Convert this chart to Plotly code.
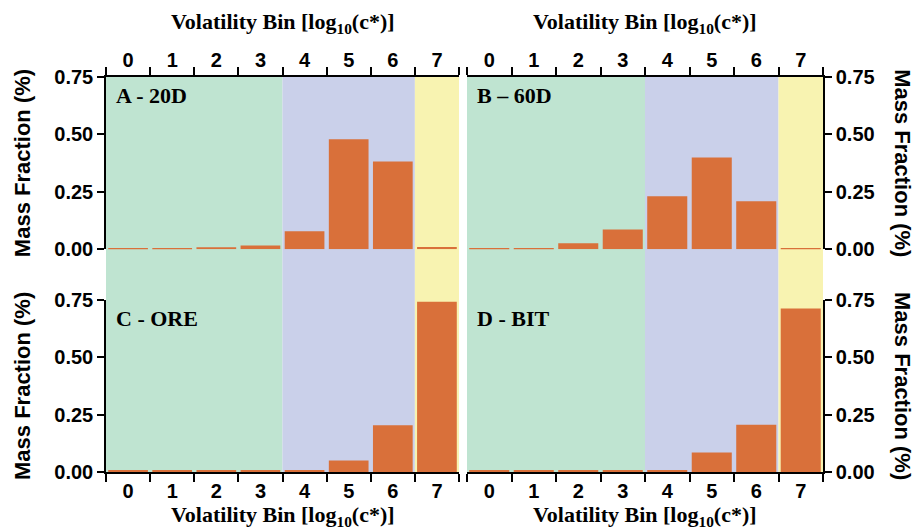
import plotly.graph_objects as go

bins = [0, 1, 2, 3, 4, 5, 6, 7]
tick_labels = ["0", "1", "2", "3", "4", "5", "6", "7"]
y_ticks = [0.0, 0.25, 0.5, 0.75]
y_tick_labels = ["0.00", "0.25", "0.50", "0.75"]

a_20d = [0.004, 0.004, 0.009, 0.016, 0.079, 0.479, 0.382, 0.010]
b_60d = [0.003, 0.006, 0.026, 0.086, 0.231, 0.400, 0.209, 0.003]
c_ore = [0.006, 0.006, 0.006, 0.006, 0.006, 0.050, 0.204, 0.742]
d_bit = [0.006, 0.006, 0.006, 0.006, 0.006, 0.085, 0.206, 0.713]

panel_names = ["A - 20D", "B \u2013 60D", "C - ORE", "D - BIT"]
regions = [(-0.5, 3.5, "#bfe4d1"), (3.5, 6.5, "#cad0ea"), (6.5, 7.5, "#f8f3b1")]

BAR = "#d9703a"
SANS = "Liberation Sans, Arial, sans-serif"
SERIF = "Liberation Serif, Times New Roman, serif"
XTITLE = "Volatility Bin [log<sub>10</sub>(c*)]"
YTITLE = "Mass Fraction (%)"

# page body has an 8px margin: figure is drawn 8px smaller and shifted
W, H = 913, 521
ML, MR, MT, MB = 98, 98, 69, 57
PW = W - ML - MR
PH = H - MT - MB

fig = go.Figure()
series = [a_20d, b_60d, c_ore, d_bit]
axes = [("x", "y"), ("x2", "y2"), ("x3", "y3"), ("x4", "y4")]
for vals, (xa, ya) in zip(series, axes):
    fig.add_trace(go.Bar(x=bins, y=vals, xaxis=xa, yaxis=ya,
                         marker=dict(color=BAR, line=dict(width=0)),
                         width=0.9, showlegend=False))

bounds = [b - 0.5 for b in bins] + [bins[-1] + 0.5]

def xaxis(domain, side, anchor):
    return dict(domain=domain, side=side, anchor=anchor,
                range=[bins[0] - 0.5, bins[-1] + 0.5],
                tickmode="array", tickvals=bins, ticktext=tick_labels,
                ticks="",
                showline=True, linecolor="black", linewidth=1.5,
                showgrid=False, zeroline=False,
                tickfont=dict(family=SANS, size=20, color="black", weight="bold"),
                minor=dict(tickmode="array", tickvals=bounds, ticks="outside",
                           ticklen=8, tickwidth=1.5, tickcolor="black", showgrid=False))

def yaxis(domain, side, anchor):
    return dict(domain=domain, side=side, anchor=anchor, range=[0, 0.75],
                tickmode="array", tickvals=y_ticks, ticktext=y_tick_labels,
                ticks="outside", ticklen=7, tickwidth=1.5, tickcolor="black",
                showline=True, linecolor="black", linewidth=1.5,
                showgrid=False, zeroline=False,
                tickfont=dict(family=SANS, size=20, color="black", weight="bold"))

LX = [0, 353 / PW]
RX = [361 / PW, 1]
TY = [(PH - 172.3) / PH, 1]
BY = [0, 172 / PH]

fig.update_layout(
    width=W, height=H,
    margin=dict(l=ML, r=MR, t=MT, b=MB),
    paper_bgcolor="white", plot_bgcolor="rgba(0,0,0,0)",
    bargap=0.1,
    xaxis=xaxis(LX, "top", "y"), yaxis=yaxis(TY, "left", "x"),
    xaxis2=xaxis(RX, "top", "y2"), yaxis2=yaxis(TY, "right", "x2"),
    xaxis3=xaxis(LX, "bottom", "y3"), yaxis3=yaxis(BY, "left", "x3"),
    xaxis4=xaxis(RX, "bottom", "y4"), yaxis4=yaxis(BY, "right", "x4"),
)

shapes = []
for xr in ["x", "x2"]:
    for x0, x1, col in regions:
        shapes.append(dict(type="rect", xref=xr, yref="paper", x0=x0, x1=x1,
                           y0=0, y1=1, fillcolor=col, line=dict(width=0),
                           layer="below"))
fig.update_layout(shapes=shapes)

ann = []
# x titles (pixel positions in figure coords)
for xr, ypix in [("x domain", 15), ("x2 domain", 15),
                 ("x3 domain", 508), ("x4 domain", 508)]:
    ann.append(dict(text=XTITLE, xref=xr, x=0.5, yref="paper",
                    y=(H - MB - ypix) / PH, showarrow=False,
                    xanchor="center", yanchor="middle",
                    font=dict(family=SERIF, size=22, color="black", weight="bold")))
# y titles
for yr, xpix, ang in [("y domain", 14, -90), ("y3 domain", 14, -90),
                      ("y2 domain", 895, 90), ("y4 domain", 895, 90)]:
    ann.append(dict(text=YTITLE, xref="paper", x=(xpix - ML) / PW, yref=yr,
                    y=0.5, showarrow=False, textangle=ang,
                    xanchor="center", yanchor="middle",
                    font=dict(family=SANS, size=22, color="black", weight="bold")))
# panel labels
for name, (xa, ya) in zip(panel_names, axes):
    ann.append(dict(text=name, xref=xa + " domain", x=0.022, yref=ya + " domain",
                    y=0.975, showarrow=False, xanchor="left", yanchor="top",
                    font=dict(family=SERIF, size=22, color="black", weight="bold")))
fig.update_layout(annotations=ann)

fig.write_html("out.html")
